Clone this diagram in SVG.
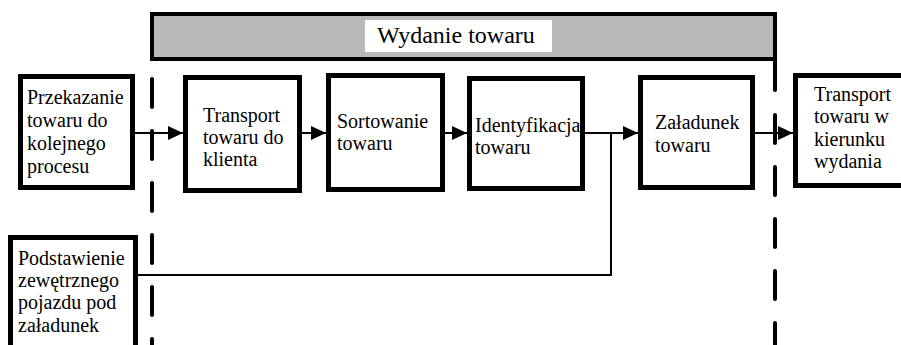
<svg xmlns="http://www.w3.org/2000/svg" width="901" height="345" viewBox="0 0 901 345">
<style>
.box{fill:#fff;stroke:#000;stroke-width:5}
.t{font-family:'Liberation Serif',serif;font-size:20px;fill:#000}
.c{fill:none;stroke:#000;stroke-width:2}
.dash{fill:none;stroke:#000;stroke-width:4;stroke-dasharray:28 24;stroke-linecap:round}
</style>
<defs>
<marker id="ah" markerWidth="15" markerHeight="14" refX="15" refY="7" orient="auto" markerUnits="userSpaceOnUse">
<path d="M0,0 L15,7 L0,14 Z" fill="#000"/>
</marker>
</defs>
<rect width="901" height="345" fill="#fff"/>
<g id="header">
<rect x="152" y="14" width="623" height="45" fill="#b9b9b9" stroke="#000" stroke-width="4"/>
<line x1="775" y1="59" x2="775" y2="90" stroke="#000" stroke-width="4" stroke-linecap="round"/>
<rect x="365" y="20" width="187" height="32" fill="#fff"/>
<text x="377" y="43" font-family="'Liberation Serif',serif" font-size="24">Wydanie towaru</text>
</g>
<g id="boundaries">
<line class="dash" x1="152" y1="79" x2="152" y2="350"/>
<line class="dash" x1="775" y1="115" x2="775" y2="350"/>
</g>
<g id="connectors">
<line class="c" x1="135" y1="133" x2="183" y2="133" marker-end="url(#ah)"/>
<line class="c" x1="302" y1="133" x2="326" y2="133" marker-end="url(#ah)"/>
<line class="c" x1="445" y1="133" x2="467" y2="133" marker-end="url(#ah)"/>
<line class="c" x1="585" y1="133" x2="638" y2="133" marker-end="url(#ah)"/>
<line class="c" x1="755" y1="133" x2="793" y2="133" marker-end="url(#ah)"/>
<polyline class="c" points="138,275 611,275 611,133"/>
</g>
<g id="n1">
<rect class="box" x="20.5" y="76.5" width="112" height="111"/>
<text class="t" x="27" y="104">Przekazanie</text>
<text class="t" x="27" y="127">towaru do</text>
<text class="t" x="27" y="150">kolejnego</text>
<text class="t" x="27" y="173">procesu</text>
</g>
<g id="n2">
<rect class="box" x="185.5" y="77.5" width="114" height="113"/>
<text class="t" x="203" y="122">Transport</text>
<text class="t" x="203" y="144">towaru do</text>
<text class="t" x="203" y="166">klienta</text>
</g>
<g id="n3">
<rect class="box" x="328.5" y="75.5" width="114" height="114"/>
<text class="t" x="337" y="128">Sortowanie</text>
<text class="t" x="337" y="150">towaru</text>
</g>
<g id="n4">
<rect class="box" x="469.5" y="78.5" width="113" height="110"/>
<text class="t" x="475" y="132">Identyfikacja</text>
<text class="t" x="475" y="154">towaru</text>
</g>
<g id="n5">
<rect class="box" x="640.5" y="77.5" width="112" height="110"/>
<text class="t" x="655" y="129">Załadunek</text>
<text class="t" x="655" y="152">towaru</text>
</g>
<g id="n6">
<rect class="box" x="795.5" y="75.5" width="120" height="110"/>
<text class="t" x="814" y="101">Transport</text>
<text class="t" x="814" y="123">towaru w</text>
<text class="t" x="814" y="146">kierunku</text>
<text class="t" x="814" y="168">wydania</text>
</g>
<g id="n7">
<rect class="box" x="10.5" y="237.5" width="125" height="120"/>
<text class="t" x="18" y="265">Podstawienie</text>
<text class="t" x="18" y="287">zewętrznego</text>
<text class="t" x="18" y="309">pojazdu pod</text>
<text class="t" x="18" y="332">załadunek</text>
</g>
</svg>
